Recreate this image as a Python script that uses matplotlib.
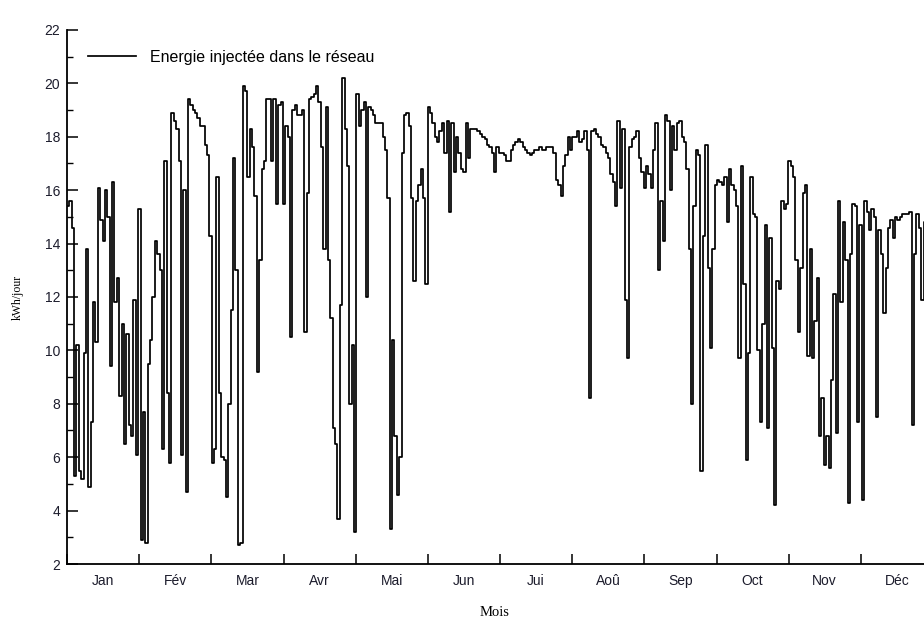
"""Energie injectée dans le réseau - daily step plot over one year."""
import numpy as np
import matplotlib
matplotlib.use("Agg")
import matplotlib.pyplot as plt
from matplotlib.ticker import FixedLocator, MultipleLocator

# daily values (kWh/jour), one list per month
jan = [15.4, 15.6, 14.6, 5.3, 10.2, 5.5, 5.2, 9.9, 13.8, 4.9, 7.3, 11.8, 10.3, 16.1, 14.9, 14.1,
       16.0, 15.0, 9.4, 16.3, 11.8, 12.7, 8.3, 11.0, 6.5, 10.6, 7.2, 6.8, 11.9, 6.1, 15.3]
fev = [2.9, 7.7, 2.8, 9.5, 10.4, 12.0, 14.1, 13.6, 13.0, 6.3, 17.1, 8.4, 5.8, 18.9, 18.6, 18.3,
       17.1, 6.1, 16.0, 4.7, 19.4, 19.2, 19.0, 18.9, 18.7, 18.4, 18.4, 17.7]
mar = [17.3, 14.3, 5.8, 6.3, 16.5, 8.4, 6.0, 5.9, 4.5, 8.0, 11.5, 17.2, 13.0, 2.7, 2.8, 19.9,
       19.7, 16.5, 18.3, 17.6, 15.8, 9.2, 13.4, 16.8, 17.1, 19.4, 19.4, 17.1, 19.4, 15.5, 19.2]
avr = [19.3, 15.5, 18.4, 18.0, 10.5, 19.0, 19.2, 18.8, 18.8, 19.0, 10.7, 15.9, 19.4, 19.5, 19.6,
       19.9, 19.3, 17.6, 13.8, 19.1, 13.4, 11.2, 7.1, 6.5, 3.7, 11.7, 20.2, 18.3, 16.9, 8.0]
mai = [10.2, 3.2, 19.6, 18.4, 19.0, 19.3, 12.0, 19.1, 19.0, 18.8, 18.5, 18.5, 18.5, 18.0, 17.5,
       15.7, 3.3, 10.4, 6.8, 4.6, 6.0, 17.4, 18.8, 18.9, 18.4, 15.7, 12.6, 15.6, 16.2, 16.8, 15.7]
jun = [12.5, 19.1, 18.9, 18.5, 18.0, 17.8, 18.2, 18.5, 17.4, 18.6, 15.2, 18.5, 16.7, 18.0, 17.4,
       16.8, 16.7, 18.5, 17.2, 18.3, 18.3, 18.3, 18.2, 18.1, 18.0, 17.9, 17.7, 17.6, 17.4, 16.7]
jui = [17.6, 17.4, 17.4, 17.3, 17.1, 17.1, 17.5, 17.7, 17.8, 17.9, 17.8, 17.6, 17.5, 17.4, 17.3,
       17.4, 17.5, 17.5, 17.6, 17.5, 17.5, 17.6, 17.6, 17.6, 17.4, 16.4, 16.2, 15.8, 16.9, 17.3, 18.0]
aou = [17.5, 18.0, 18.0, 18.2, 17.8, 17.9, 18.2, 17.5, 8.2, 18.2, 18.3, 18.1, 18.0, 17.7, 17.6,
       17.4, 17.2, 16.6, 16.3, 15.4, 18.6, 16.1, 18.3, 11.9, 9.7, 17.6, 17.9, 18.0, 18.2, 17.2, 16.7]
sep = [16.1, 16.9, 16.6, 16.1, 17.5, 18.5, 13.0, 15.6, 14.1, 18.8, 18.6, 16.0, 18.4, 17.5, 18.5,
       18.6, 18.0, 17.8, 16.8, 13.8, 8.0, 15.4, 17.5, 17.3, 5.5, 14.3, 17.7, 13.1, 10.1, 13.8]
octo = [16.2, 16.4, 16.3, 16.2, 16.5, 14.8, 16.8, 16.2, 16.0, 15.4, 9.7, 16.9, 12.5, 5.9, 9.9,
        16.5, 15.1, 15.0, 10.0, 7.3, 11.0, 14.7, 7.1, 14.2, 10.1, 4.2, 12.6, 12.3, 15.6, 15.3, 15.5]
nov = [17.1, 16.9, 16.5, 13.4, 10.7, 13.1, 15.9, 16.2, 9.8, 13.8, 9.7, 11.1, 12.7, 6.8, 8.2,
       5.7, 6.8, 5.6, 8.9, 12.1, 6.9, 15.6, 11.8, 14.8, 13.4, 4.3, 13.6, 15.5, 15.4, 7.3]
dec = [14.7, 4.4, 15.6, 15.2, 14.5, 15.3, 15.0, 7.5, 14.5, 13.6, 11.4, 13.1, 14.6, 14.9, 14.2,
       15.0, 14.9, 15.0, 15.1, 15.1, 15.1, 15.2, 7.2, 13.6, 15.1, 14.6, 11.9, 14.8, 14.9, 15.0, 15.1]

months = ["Jan", "Fév", "Mar", "Avr", "Mai", "Jun", "Jui", "Aoû", "Sep", "Oct", "Nov", "Déc"]
label = "Energie injectée dans le réseau"

energy = jan + fev + mar + avr + mai + jun + jui + aou + sep + octo + nov + dec
days = np.arange(len(energy) + 1)
vals = energy + [energy[-1]]

plt.rcParams["font.family"] = ["Liberation Sans", "DejaVu Sans"]
tick_col = "#1c1c2c"

fig = plt.figure(figsize=(9.24, 6.21), dpi=100)
# axes run past the right edge like in the cropped original
ax = fig.add_axes([67 / 924, 57 / 621, 866 / 924, 534 / 621])

ax.plot(days, vals, drawstyle="steps-post", color="black", linewidth=1.25, label=label)

ax.set_xlim(0, 365)
ax.set_ylim(2, 22)

for s in ("top", "right"):
    ax.spines[s].set_visible(False)
for s in ("left", "bottom"):
    ax.spines[s].set_linewidth(1.3)

ax.yaxis.set_major_locator(MultipleLocator(2))
ax.yaxis.set_minor_locator(MultipleLocator(1))
ax.tick_params(axis="y", which="major", direction="in", length=8, width=1.1,
               labelsize=10, labelcolor=tick_col, pad=5)
ax.tick_params(axis="y", which="minor", direction="in", length=4, width=1.0)

month_len = 365 / 12
ax.xaxis.set_major_locator(FixedLocator(np.arange(13) * month_len))
ax.xaxis.set_minor_locator(FixedLocator((np.arange(12) + 0.5) * month_len))
ax.set_xticklabels([], minor=False)
ax.set_xticklabels(months, minor=True)
ax.tick_params(axis="x", which="major", direction="in", length=7, width=1.1)
ax.tick_params(axis="x", which="minor", length=0, labelsize=10, labelcolor=tick_col, pad=7)

ax.set_ylabel("kWh/jour", family="Liberation Serif", fontsize=8.5)
ax.yaxis.set_label_coords(-0.05, 0.5)
ax.set_xlabel("Mois", family="Liberation Serif", fontsize=10.5)
ax.xaxis.set_label_coords(0.494, -0.078)

ax.legend(loc="center left", bbox_to_anchor=(0.024, 0.949), frameon=False,
          handlelength=3.0, handletextpad=0.9, borderpad=0, borderaxespad=0,
          prop={"size": 11.5})

fig.savefig("out.png", dpi=100)
